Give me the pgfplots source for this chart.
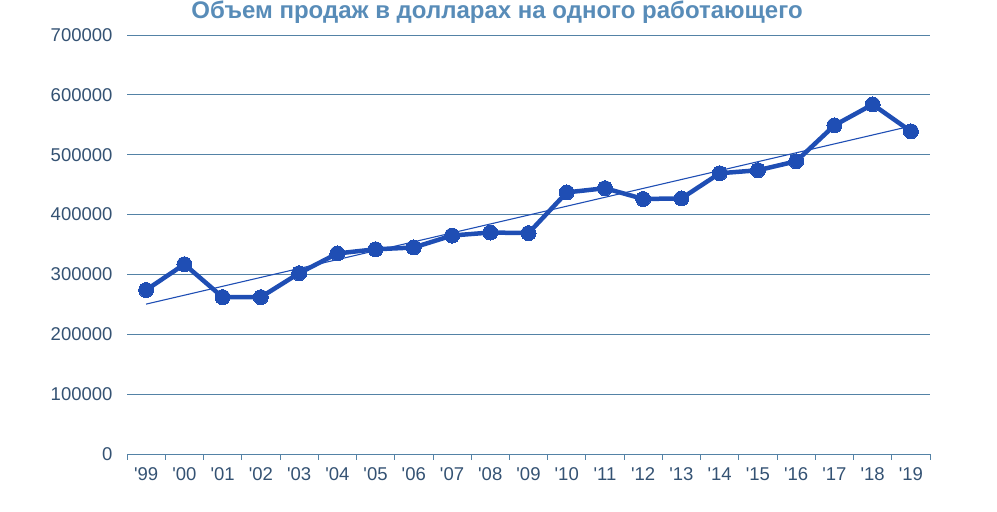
\documentclass[border=0pt]{standalone}
\usepackage{fontspec}
\setmainfont{Liberation Sans}
\usepackage{pgfplots}
\pgfplotsset{compat=1.18}
\definecolor{linec}{RGB}{31,78,180}
\definecolor{gridc}{RGB}{84,130,166}
\definecolor{tickc}{RGB}{52,82,115}
\definecolor{titlec}{RGB}{88,140,184}
\newcommand\q{\textquotesingle}
\begin{document}
\begin{tikzpicture}[x=1bp,y=1bp]
\path[use as bounding box] (0,0) rectangle (997,512);
\node[font=\fontsize{24bp}{26bp}\selectfont\bfseries, text=titlec, anchor=base, inner sep=0pt] at (497,493) {Объем продаж в долларах на одного работающего};
\begin{axis}[
  at={(127bp,58bp)}, anchor=south west,
  scale only axis, width=803bp, height=419bp,
  xmin=-0.5, xmax=20.5, ymin=0, ymax=700000,
  axis x line*=bottom, axis y line*=left,
  y axis line style={draw=none},
  ytick={0,100000,...,700000},
  ymajorgrids, grid style={gridc, line width=0.8bp},
  scaled y ticks=false,
  yticklabel style={/pgf/number format/fixed, /pgf/number format/1000 sep={}},
  /pgf/number format/assume math mode=true,
  xtick={0,...,20},
  xticklabels={\q99,\q00,\q01,\q02,\q03,\q04,\q05,\q06,\q07,\q08,\q09,\q10,\q11,\q12,\q13,\q14,\q15,\q16,\q17,\q18,\q19},
  minor xtick={-0.5,0.5,...,20.5},
  major tick length=0pt, minor tick length=6bp,
  xtick align=outside,
  tick style={gridc, line width=0.8bp},
  x axis line style={gridc, line width=0.8bp, -},
  ticklabel style={font=\fontsize{18.5bp}{20bp}\selectfont, text=tickc},
  xticklabel style={yshift=-10bp},
  yticklabel style={xshift=-11bp},
  clip=false,
]
\addplot[linec, line width=1.1bp] coordinates {(0,250400) (20,547800)};
\addplot[linec, line width=4.5bp, mark=*, mark size=7.5bp, mark options={fill=linec, draw=linec, line width=0bp}] coordinates {
(0,274000) (1,317000) (2,262000) (3,262000) (4,302000) (5,335000) (6,342000)
(7,345000) (8,365000) (9,370000) (10,369000) (11,437000) (12,444000) (13,426000)
(14,427000) (15,469000) (16,474000) (17,489000) (18,549000) (19,584000) (20,539000)};
\end{axis}
\end{tikzpicture}
\end{document}
